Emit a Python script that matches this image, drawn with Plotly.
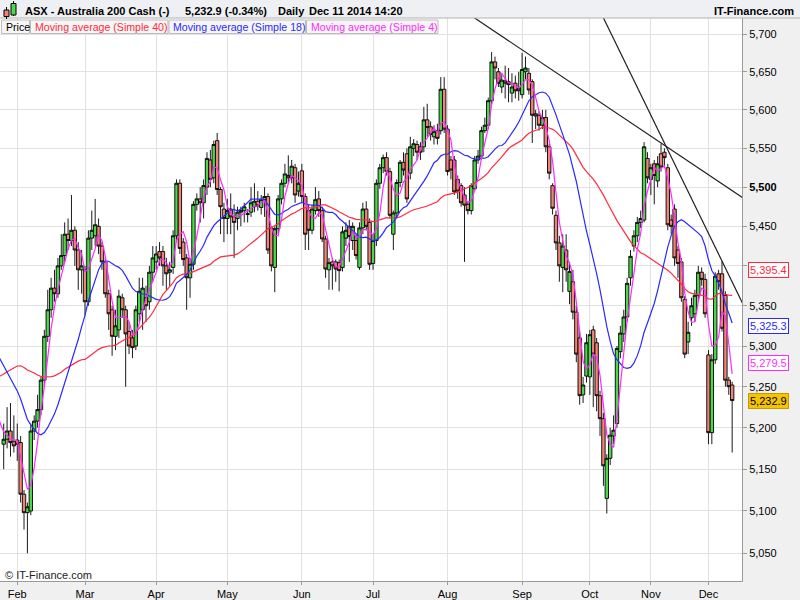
import math
import pandas as pd
import plotly.graph_objects as go

# ---------------- data ----------------
open_ = [5180,5186,5196,5183,5185,5182,5120,5098,5100,5196,5208,5222,5258,5312,5345,5372,5365,5400,5413,5440,
         5432,5445,5420,5395,5395,5355,5435,5438,5450,5425,5405,5365,5345,5312,5320,5360,5345,5318,5310,5300,
         5340,5345,5360,5355,5392,5405,5418,5418,5400,5392,5398,5438,5505,5430,5410,5385,5402,5478,5485,5480,
         5500,5535,5512,5560,5497,5472,5460,5472,5462,5460,5468,5470,5465,5468,5475,5482,5474,5484,5488,5448,
         5398,5447,5485,5505,5515,5512,5525,5495,5521,5488,5470,5445,5470,5485,5470,5434,5395,5405,5405,5404,
         5398,5435,5450,5432,5432,5398,5448,5472,5455,5403,5432,5505,5525,5538,5520,5440,5467,5506,5532,5543,
         5518,5550,5555,5552,5552,5587,5578,5565,5573,5573,5627,5575,5535,5535,5510,5502,5490,5478,5470,5498,
         5535,5540,5573,5580,5612,5663,5650,5630,5638,5637,5622,5635,5628,5620,5650,5648,5637,5595,5593,5580,
         5590,5552,5502,5464,5429,5398,5420,5368,5380,5342,5310,5240,5263,5262,5320,5304,5239,5211,5115,5163,
         5190,5205,5293,5315,5336,5385,5425,5438,5455,5458,5537,5510,5530,5508,5543,5545,5525,5458,5472,5420,
         5405,5358,5305,5335,5340,5363,5392,5383,5289,5194,5283,5390,5390,5363,5258,5252]
high = [5205,5225,5230,5215,5205,5190,5125,5110,5205,5215,5240,5262,5320,5370,5385,5395,5410,5440,5455,5460,
        5490,5450,5430,5420,5400,5445,5470,5485,5460,5430,5410,5370,5350,5345,5370,5365,5350,5330,5320,5350,
        5385,5385,5375,5400,5425,5425,5430,5425,5410,5405,5445,5510,5510,5435,5415,5410,5482,5492,5500,5510,
        5545,5548,5560,5570,5500,5480,5485,5492,5478,5475,5475,5480,5472,5500,5505,5495,5490,5500,5492,5450,
        5450,5490,5510,5530,5541,5535,5530,5520,5530,5492,5478,5478,5500,5495,5475,5438,5410,5410,5408,5408,
        5450,5455,5458,5455,5440,5455,5480,5482,5460,5440,5510,5530,5542,5545,5525,5470,5510,5535,5545,5550,
        5565,5562,5560,5558,5604,5608,5585,5580,5582,5643,5643,5580,5540,5540,5515,5505,5500,5482,5505,5540,
        5548,5578,5590,5616,5676,5670,5655,5648,5658,5655,5648,5645,5650,5675,5670,5655,5640,5600,5598,5600,
        5600,5556,5505,5470,5438,5440,5440,5405,5395,5350,5318,5262,5315,5320,5325,5310,5245,5218,5168,5200,
        5215,5300,5325,5345,5385,5420,5445,5462,5470,5558,5545,5530,5535,5540,5556,5550,5530,5465,5478,5425,
        5410,5362,5330,5360,5370,5400,5398,5390,5295,5290,5392,5395,5406,5368,5262,5256]
low = [5150,5175,5165,5170,5160,5110,5078,5050,5095,5185,5200,5215,5250,5305,5335,5355,5360,5395,5405,5420,
       5425,5400,5370,5365,5338,5350,5420,5425,5415,5395,5360,5320,5288,5295,5310,5335,5250,5290,5285,5295,
       5330,5320,5330,5345,5380,5395,5400,5375,5370,5375,5390,5430,5415,5400,5345,5360,5395,5470,5455,5460,
       5490,5500,5505,5490,5440,5430,5440,5440,5410,5445,5450,5455,5455,5462,5468,5470,5465,5462,5415,5393,
       5367,5440,5478,5500,5505,5505,5480,5488,5480,5420,5420,5440,5465,5462,5430,5385,5370,5370,5380,5368,
       5393,5425,5405,5420,5408,5395,5440,5445,5395,5395,5425,5498,5518,5515,5460,5420,5460,5500,5515,5480,
       5510,5540,5535,5535,5545,5565,5560,5555,5555,5568,5570,5515,5510,5490,5485,5475,5405,5465,5465,5495,
       5530,5535,5570,5575,5608,5640,5630,5622,5615,5610,5610,5615,5612,5615,5640,5620,5557,5575,5573,5575,
       5545,5510,5465,5420,5380,5367,5380,5352,5333,5280,5228,5230,5255,5240,5225,5220,5190,5130,5097,5155,
       5180,5200,5285,5305,5330,5375,5418,5430,5448,5455,5505,5490,5478,5500,5520,5525,5445,5440,5400,5385,
       5355,5285,5290,5325,5330,5355,5375,5335,5180,5180,5278,5370,5318,5250,5240,5170]
close = [5186,5196,5182,5178,5180,5120,5098,5105,5196,5208,5222,5258,5312,5345,5372,5365,5400,5413,5440,5432,
         5445,5420,5395,5400,5355,5435,5445,5452,5425,5405,5365,5340,5312,5325,5362,5345,5315,5300,5298,5345,
         5368,5372,5350,5392,5410,5415,5410,5400,5390,5395,5438,5505,5422,5408,5385,5402,5478,5485,5480,5502,
         5537,5510,5555,5497,5475,5460,5470,5462,5455,5468,5470,5475,5466,5480,5482,5476,5484,5488,5420,5400,
         5447,5485,5505,5517,5512,5527,5490,5505,5488,5440,5445,5472,5484,5470,5434,5396,5404,5400,5396,5394,
         5443,5445,5437,5450,5413,5448,5472,5450,5402,5432,5505,5525,5538,5520,5464,5467,5506,5532,5522,5485,
         5552,5556,5545,5545,5587,5577,5568,5572,5563,5627,5575,5520,5522,5494,5495,5480,5477,5470,5502,5535,
         5540,5573,5580,5612,5663,5655,5635,5639,5635,5633,5630,5625,5625,5653,5655,5626,5593,5592,5580,5590,
         5552,5518,5473,5429,5400,5425,5395,5393,5342,5290,5239,5252,5304,5314,5290,5239,5211,5154,5163,5191,
         5197,5297,5316,5336,5378,5412,5438,5455,5460,5552,5512,5525,5515,5530,5526,5538,5452,5450,5410,5403,
         5360,5290,5317,5350,5363,5392,5383,5340,5194,5283,5387,5380,5322,5258,5250,5233]

# closes before the visible window (needed so the moving averages start at the left edge)
history_close = [5095,5090,5080,5075,5085,5100,5110,5180,5230,5260,5290,5320,5330,5340,5345,5352,5330,5320,5310,5300,
                 5325,5330,5320,5315,5330,5340,5320,5310,5300,5330,5320,5315,5310,5305,5290,5260,5235,5225,5215,5200,5180]

ma_periods = [40, 18, 4]
ma_colors = ["#ff2a40", "#2a2aff", "#ff2aff"]
ma_names = ["Moving average (Simple 40)", "Moving average (Simple 18)", "Moving average (Simple 4)"]

month_labels = ["Feb", "Mar", "Apr", "May", "Jun", "Jul", "Aug", "Sep", "Oct", "Nov", "Dec"]
month_start_idx = [4, 24, 45, 66, 88, 109, 131, 153, 173, 191, 208]

price_ticks = [5050, 5100, 5150, 5200, 5250, 5300, 5350, 5400, 5450, 5500, 5550, 5600, 5650, 5700]
hidden_tick = 5400   # covered by the last-value box in the original

# trend lines drawn through two touch points (candle index, price)
trend1_idx = [153, 194]
trend1_val = [5679, 5557]
trend2_idx = [195, 212]
trend2_val = [5557, 5406]

# last values shown on the right axis
last_labels = [("5,395.4", 5395.4, "#ff2a40"), ("5,325.3", 5325.3, "#2a2aff"),
               ("5,279.5", 5279.5, "#ff2aff")]
last_price = 5232.9
header_title = "ASX - Australia 200 Cash (-)"
header_quote = "5,232.9 (-0.34%)"
header_period = "Daily"
header_time = "Dec 11 2014 14:20"

# ---------------- figure ----------------
W, H = 800, 600
ML, MR, MT, MB = 0, 58, 18, 19
PW, PH = W - ML - MR, H - MT - MB
FONT = "Liberation Sans, Arial, sans-serif"


def px(x):
    return (x - ML) / PW


def py(y):
    return (H - MB - y) / PH


def tick_text(v):
    if v == hidden_tick:
        return ""
    if v == 5500:
        return f"<b>{v:,}</b>"
    return f"{v:,}"


idx = list(range(len(close)))
fig = go.Figure()

fig.add_trace(go.Candlestick(
    x=idx, open=open_, high=high, low=low, close=close,
    increasing=dict(fillcolor="#4cd84c", line=dict(color="#000000", width=0.9)),
    decreasing=dict(fillcolor="#f08478", line=dict(color="#000000", width=0.9)),
    whiskerwidth=0, showlegend=False, hoverinfo="skip"))

all_close = pd.Series(history_close + close, dtype=float)
all_idx = list(range(-len(history_close), len(close)))
for p, col in zip(ma_periods, ma_colors):
    ma = all_close.rolling(p).mean()
    xs, ys = [], []
    for i, v in zip(all_idx, ma):
        if i >= -2 and not math.isnan(v):
            xs.append(i)
            ys.append(v)
    fig.add_trace(go.Scatter(x=xs, y=ys, mode="lines", line=dict(color=col, width=1.2),
                             showlegend=False, hoverinfo="skip"))


def extend(ix, iv, x0, x1):
    slope = (math.log(iv[1]) - math.log(iv[0])) / (ix[1] - ix[0])
    f = lambda x: math.exp(math.log(iv[0]) + slope * (x - ix[0]))
    return [x0, x1], [f(x0), f(x1)]


for ix, iv in [(trend1_idx, trend1_val), (trend2_idx, trend2_val)]:
    xs, ys = extend(ix, iv, 100, 240)
    fig.add_trace(go.Scatter(x=xs, y=ys, mode="lines", line=dict(color="#202020", width=1.2),
                             showlegend=False, hoverinfo="skip"))

ymin, ymax = 5017.4, 5721.3
fig.update_layout(
    width=W, height=H,
    margin=dict(l=ML, r=MR, t=MT, b=MB, pad=0),
    paper_bgcolor="#f0f0f0", plot_bgcolor="#ffffff",
    font=dict(family=FONT, size=11, color="#000000"),
    boxgap=0.0, boxgroupgap=0.0,
    xaxis=dict(range=[-1.09, 217.9], rangeslider=dict(visible=False),
               tickmode="array", tickvals=month_start_idx, ticktext=month_labels,
               showgrid=True, gridcolor="#e2e2e2", gridwidth=1,
               ticks="outside", ticklen=3, tickcolor="#9a9a9a",
               showline=True, linecolor="#9a9a9a", linewidth=1, zeroline=False,
               tickfont=dict(size=11, color="#000000")),
    yaxis=dict(type="log", side="right", range=[math.log10(ymin), math.log10(ymax)],
               tickmode="array", tickvals=price_ticks,
               ticktext=[tick_text(v) for v in price_ticks],
               showgrid=True, gridcolor="#e2e2e2", gridwidth=1,
               ticks="outside", ticklen=4, tickcolor="#9a9a9a",
               showline=True, linecolor="#9a9a9a", linewidth=1, zeroline=False,
               tickfont=dict(size=11, color="#000000")),
)

shapes = []
annotations = []

# header band
shapes.append(dict(type="rect", xref="paper", yref="paper", x0=px(0), x1=px(W), y0=py(18), y1=py(0),
                   fillcolor="#eef0f3", line=dict(width=0), layer="below"))
shapes.append(dict(type="line", xref="paper", yref="paper", x0=px(0), x1=px(W), y0=py(18), y1=py(18),
                   line=dict(color="#b4b4b4", width=1)))
# header icon
shapes.append(dict(type="line", xref="paper", yref="paper", x0=px(6.5), x1=px(6.5), y0=py(7), y1=py(19),
                   line=dict(color="#000", width=1)))
shapes.append(dict(type="rect", xref="paper", yref="paper", x0=px(4), x1=px(9), y0=py(16.5), y1=py(10),
                   fillcolor="#f08478", line=dict(color="#000", width=1)))
shapes.append(dict(type="line", xref="paper", yref="paper", x0=px(13.5), x1=px(13.5), y0=py(1), y1=py(16),
                   line=dict(color="#000", width=1)))
shapes.append(dict(type="rect", xref="paper", yref="paper", x0=px(11), x1=px(16), y0=py(15), y1=py(3.5),
                   fillcolor="#4cd84c", line=dict(color="#000", width=1)))

hy = py(10.5)
for txt, x in [(header_title, 22.5), (header_quote, 183), (header_period, 276), (header_time, 307)]:
    annotations.append(dict(text=f"<b>{txt}</b>", xref="paper", yref="paper", x=px(x), y=hy,
                            xanchor="left", yanchor="middle", showarrow=False,
                            font=dict(size=11, color="#000")))
annotations.append(dict(text="<b>IT-Finance.com</b>", xref="paper", yref="paper", x=px(796), y=hy,
                        xanchor="right", yanchor="middle", showarrow=False,
                        font=dict(size=11, color="#000")))

# legend boxes
legend_items = [("Price", "#000000", 1.5, 29.5)] + [
    (n, c, x0, x1) for n, c, x0, x1 in zip(ma_names, ma_colors, [30.5, 169, 306.5], [168, 305.5, 438])]
for name, col, x0, x1 in legend_items:
    shapes.append(dict(type="rect", xref="paper", yref="paper", x0=px(x0), x1=px(x1), y0=py(33.5), y1=py(20),
                       fillcolor="#f6f6f6", line=dict(color="#bdbdbd", width=1)))
    annotations.append(dict(text=name, xref="paper", yref="paper", x=px(x0 + 2), y=py(27),
                            xanchor="left", yanchor="middle", showarrow=False,
                            font=dict(size=10.6, color=col)))

# last value labels on right axis
for txt, val, col in last_labels:
    annotations.append(dict(text=txt, xref="paper", yref="y", x=px(747.5), y=math.log10(val),
                            xanchor="left", yanchor="middle", showarrow=False,
                            font=dict(size=11, color=col), bgcolor="#ffffff",
                            bordercolor=col, borderwidth=1, borderpad=1))
annotations.append(dict(text=f"{last_price:,.1f}", xref="paper", yref="y", x=px(747.5), y=math.log10(last_price),
                        xanchor="left", yanchor="middle", showarrow=False,
                        font=dict(size=11, color="#000"), bgcolor="#f5c400",
                        bordercolor="#c99a00", borderwidth=1, borderpad=1))

annotations.append(dict(text="© IT-Finance.com", xref="paper", yref="paper", x=px(2.5), y=py(575),
                        xanchor="left", yanchor="middle", showarrow=False,
                        font=dict(size=11, color="#222")))

fig.update_layout(shapes=shapes, annotations=annotations)
fig.write_html("out.html", config={"displayModeBar": False},
               post_script="document.body.style.margin='0px';document.body.style.overflow='hidden';")
